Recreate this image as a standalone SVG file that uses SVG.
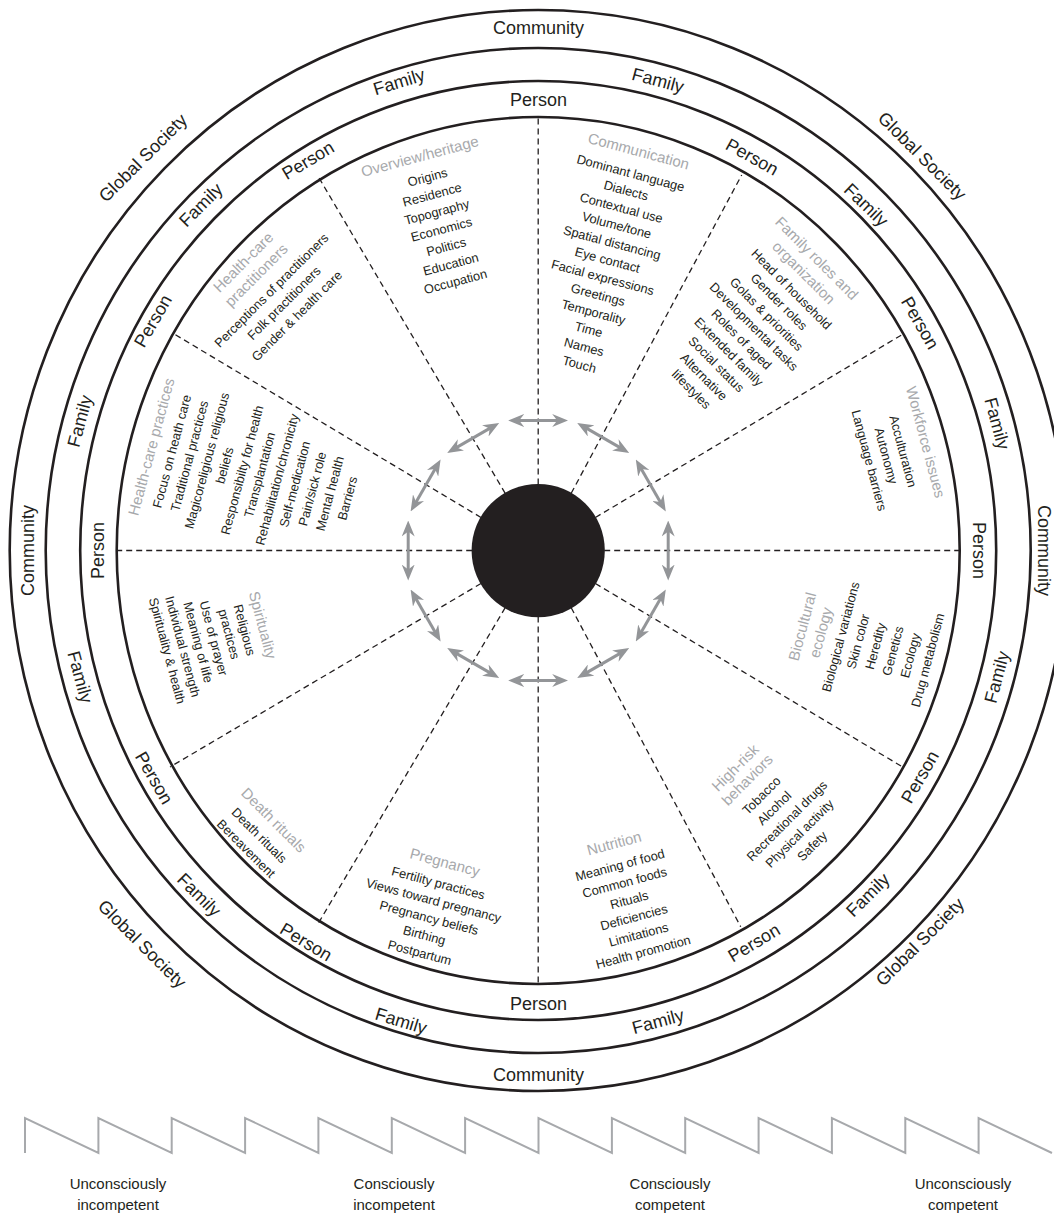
<svg xmlns="http://www.w3.org/2000/svg" width="1054" height="1217" viewBox="0 0 1054 1217">
<style>
text{font-family:"Liberation Sans",Arial,Helvetica,sans-serif;text-anchor:middle;dominant-baseline:central}
.ring{fill:none;stroke:#231f20;stroke-width:2.6}
.spoke{fill:none;stroke:#231f20;stroke-width:1.3;stroke-dasharray:6 4}
.arr{fill:none;stroke:#939598;stroke-width:3}
.lbl{font-size:18px;fill:#231f20}
.ttl{font-size:15px;fill:#a7a9ac}
.itm{font-size:12.8px;fill:#231f20}
.stage{font-size:15px;fill:#231f20}
.saw{fill:none;stroke:#a7a9ac;stroke-width:2}
</style>
<defs>
<marker id="ah" viewBox="0 0 16 13" refX="11" refY="6.5" markerWidth="16" markerHeight="13" markerUnits="userSpaceOnUse" orient="auto-start-reverse">
<path d="M0,0 L16,6.5 L0,13 L5,6.5 Z" fill="#939598"/>
</marker>
</defs>
<rect width="1054" height="1217" fill="#ffffff"/>

<g id="rings">
<ellipse class="ring" cx="538.2" cy="550.5" rx="528.5" ry="540.5"/>
<ellipse class="ring" cx="538.2" cy="550.5" rx="492.5" ry="502.5"/>
<ellipse class="ring" cx="538.2" cy="550.5" rx="458" ry="469.5"/>
<ellipse class="ring" cx="538.2" cy="550.5" rx="421.5" ry="433.5"/>
</g>

<g id="connectors">
<line class="spoke" x1="538.2" y1="484.5" x2="538.2" y2="117"/>
<line class="spoke" x1="571.2" y1="493.3" x2="741.7" y2="175"/>
<line class="spoke" x1="595.4" y1="517.5" x2="904" y2="333.5"/>
<line class="spoke" x1="604.2" y1="550.5" x2="959.7" y2="550.5"/>
<line class="spoke" x1="595.4" y1="583.5" x2="903.2" y2="767.3"/>
<line class="spoke" x1="571.2" y1="607.7" x2="740.7" y2="926.7"/>
<line class="spoke" x1="538.2" y1="616.5" x2="538.2" y2="984"/>
<line class="spoke" x1="505.2" y1="607.7" x2="318.3" y2="923.3"/>
<line class="spoke" x1="481" y1="583.5" x2="170" y2="767"/>
<line class="spoke" x1="472.2" y1="550.5" x2="116.7" y2="550.5"/>
<line class="spoke" x1="481" y1="517.5" x2="173.3" y2="333.5"/>
<line class="spoke" x1="505.2" y1="493.3" x2="318.3" y2="176.7"/>
<g id="arrows">
<line class="arr" marker-start="url(#ah)" marker-end="url(#ah)" x1="513.2" y1="420.5" x2="563.2" y2="420.5"/>
<line class="arr" marker-start="url(#ah)" marker-end="url(#ah)" x1="581.55" y1="425.4" x2="624.85" y2="450.4"/>
<line class="arr" marker-start="url(#ah)" marker-end="url(#ah)" x1="638.3" y1="463.85" x2="663.3" y2="507.15"/>
<line class="arr" marker-start="url(#ah)" marker-end="url(#ah)" x1="668.2" y1="525.5" x2="668.2" y2="575.5"/>
<line class="arr" marker-start="url(#ah)" marker-end="url(#ah)" x1="663.3" y1="593.85" x2="638.3" y2="637.15"/>
<line class="arr" marker-start="url(#ah)" marker-end="url(#ah)" x1="624.85" y1="650.6" x2="581.55" y2="675.6"/>
<line class="arr" marker-start="url(#ah)" marker-end="url(#ah)" x1="563.2" y1="680.5" x2="513.2" y2="680.5"/>
<line class="arr" marker-start="url(#ah)" marker-end="url(#ah)" x1="494.85" y1="675.6" x2="451.55" y2="650.6"/>
<line class="arr" marker-start="url(#ah)" marker-end="url(#ah)" x1="438.1" y1="637.15" x2="413.1" y2="593.85"/>
<line class="arr" marker-start="url(#ah)" marker-end="url(#ah)" x1="408.2" y1="575.5" x2="408.2" y2="525.5"/>
<line class="arr" marker-start="url(#ah)" marker-end="url(#ah)" x1="413.1" y1="507.15" x2="438.1" y2="463.85"/>
<line class="arr" marker-start="url(#ah)" marker-end="url(#ah)" x1="451.55" y1="450.4" x2="494.85" y2="425.4"/>
</g>
</g>

<g id="center">
<circle cx="538.2" cy="550.6" r="66.6" fill="#231f20"/>
</g>

<g id="ring-labels">
<text class="lbl" x="538.5" y="28">Community</text>
<text class="lbl" transform="translate(1043.5,550.5) rotate(90)">Community</text>
<text class="lbl" x="538.5" y="1074.5">Community</text>
<text class="lbl" transform="translate(28,550.5) rotate(-90)">Community</text>
<text class="lbl" transform="translate(922,156) rotate(45)">Global Society</text>
<text class="lbl" transform="translate(920,942) rotate(-45)">Global Society</text>
<text class="lbl" transform="translate(142,944) rotate(45)">Global Society</text>
<text class="lbl" transform="translate(143,158) rotate(-45)">Global Society</text>
<text class="lbl" transform="translate(658,80.5) rotate(15)">Family</text>
<text class="lbl" transform="translate(866,205) rotate(44)">Family</text>
<text class="lbl" transform="translate(997,423.5) rotate(75)">Family</text>
<text class="lbl" transform="translate(997,677) rotate(-75)">Family</text>
<text class="lbl" transform="translate(868,895) rotate(-45)">Family</text>
<text class="lbl" transform="translate(658,1021.5) rotate(-15)">Family</text>
<text class="lbl" transform="translate(401,1021) rotate(17)">Family</text>
<text class="lbl" transform="translate(199,895) rotate(45)">Family</text>
<text class="lbl" transform="translate(80,677) rotate(75)">Family</text>
<text class="lbl" transform="translate(80,421) rotate(-75)">Family</text>
<text class="lbl" transform="translate(201,205) rotate(-45)">Family</text>
<text class="lbl" transform="translate(399,82) rotate(-17)">Family</text>
<text class="lbl" x="538.5" y="100">Person</text>
<text class="lbl" transform="translate(752,157) rotate(29)">Person</text>
<text class="lbl" transform="translate(920,323) rotate(60)">Person</text>
<text class="lbl" transform="translate(979,550.5) rotate(90)">Person</text>
<text class="lbl" transform="translate(920,777) rotate(-60)">Person</text>
<text class="lbl" transform="translate(754,943) rotate(-31)">Person</text>
<text class="lbl" x="538.5" y="1004">Person</text>
<text class="lbl" transform="translate(306,942) rotate(31)">Person</text>
<text class="lbl" transform="translate(154,778) rotate(60)">Person</text>
<text class="lbl" transform="translate(98,550.5) rotate(-90)">Person</text>
<text class="lbl" transform="translate(153,321) rotate(-60)">Person</text>
<text class="lbl" transform="translate(308,160.5) rotate(-31)">Person</text>
</g>

<g id="overview-heritage" transform="translate(419.7,156) rotate(-15)">
<text class="ttl" x="0" y="0">Overview/heritage</text>
<text class="itm" x="2" y="22.5">Origins</text>
<text class="itm" x="2" y="40.5">Residence</text>
<text class="itm" x="2" y="58.5">Topography</text>
<text class="itm" x="2" y="76.5">Economics</text>
<text class="itm" x="2" y="94.5">Politics</text>
<text class="itm" x="2" y="112.5">Education</text>
<text class="itm" x="2" y="130.5">Occupation</text>
</g>

<g id="communication" transform="translate(638.7,150.8) rotate(15)">
<text class="ttl" x="0" y="0">Communication</text>
<text class="itm" x="-2" y="23.5">Dominant language</text>
<text class="itm" x="-2" y="41.5">Dialects</text>
<text class="itm" x="-2" y="59.5">Contextual use</text>
<text class="itm" x="-2" y="77.5">Volume/tone</text>
<text class="itm" x="-2" y="95.5">Spatial distancing</text>
<text class="itm" x="-2" y="113.5">Eye contact</text>
<text class="itm" x="-2" y="131.5">Facial expressions</text>
<text class="itm" x="-2" y="149.5">Greetings</text>
<text class="itm" x="-2" y="167.5">Temporality</text>
<text class="itm" x="-2" y="185.5">Time</text>
<text class="itm" x="-2" y="203.5">Names</text>
<text class="itm" x="-2" y="221.5">Touch</text>
</g>

<g id="family-roles" transform="translate(817,258) rotate(45)">
<text class="ttl" x="0" y="0">Family roles and</text>
<text class="ttl" x="1" y="19.4">organization</text>
<text class="itm" x="4" y="40">Head of household</text>
<text class="itm" x="4" y="57.7">Gender roles</text>
<text class="itm" x="4" y="75.4">Golas &amp; priorities</text>
<text class="itm" x="4" y="93.1">Developmental tasks</text>
<text class="itm" x="4" y="110.8">Roles of aged</text>
<text class="itm" x="4" y="128.5">Extended family</text>
<text class="itm" x="4" y="146.2">Social status</text>
<text class="itm" x="4" y="163.9">Alternative</text>
<text class="itm" x="4" y="181.6">lifestyles</text>
</g>

<g id="workforce-issues" transform="translate(926,442) rotate(75)">
<text class="ttl" x="0" y="0">Workforce issues</text>
<text class="itm" x="3" y="24.5">Acculturation</text>
<text class="itm" x="3" y="42">Autonomy</text>
<text class="itm" x="3" y="59.5">Language barriers</text>
</g>

<g id="biocultural-ecology" transform="translate(802,626.5) rotate(-75)">
<text class="ttl" x="0" y="0">Biocultural</text>
<text class="ttl" x="-1" y="19.4">ecology</text>
<text class="itm" x="0" y="40">Biological variations</text>
<text class="itm" x="0" y="58">Skin color</text>
<text class="itm" x="0" y="76">Heredity</text>
<text class="itm" x="0" y="94">Genetics</text>
<text class="itm" x="0" y="112">Ecology</text>
<text class="itm" x="0" y="130">Drug metabolism</text>
</g>

<g id="high-risk-behaviors" transform="translate(735,767.5) rotate(-45)">
<text class="ttl" x="0" y="0">High-risk</text>
<text class="ttl" x="0" y="17">behaviors</text>
<text class="itm" x="-1" y="38.5">Tobacco</text>
<text class="itm" x="-1" y="56.4">Alcohol</text>
<text class="itm" x="-1" y="74.3">Recreational drugs</text>
<text class="itm" x="-1" y="92.2">Physical activity</text>
<text class="itm" x="-1" y="110.1">Safety</text>
</g>

<g id="nutrition" transform="translate(614,843) rotate(-15)">
<text class="ttl" x="0" y="0">Nutrition</text>
<text class="itm" x="0" y="22.8">Meaning of food</text>
<text class="itm" x="0" y="40.8">Common foods</text>
<text class="itm" x="0" y="58.8">Rituals</text>
<text class="itm" x="0" y="76.8">Deficiencies</text>
<text class="itm" x="0" y="94.8">Limitations</text>
<text class="itm" x="0" y="112.8">Health promotion</text>
</g>

<g id="pregnancy" transform="translate(445,862) rotate(15)">
<text class="ttl" x="0" y="0">Pregnancy</text>
<text class="itm" x="-1" y="22">Fertility practices</text>
<text class="itm" x="-1" y="40">Views toward pregnancy</text>
<text class="itm" x="-1" y="58">Pregnancy beliefs</text>
<text class="itm" x="-1" y="76">Birthing</text>
<text class="itm" x="-1" y="94">Postpartum</text>
</g>

<g id="death-rituals" transform="translate(274,820) rotate(45)">
<text class="ttl" x="0" y="0">Death rituals</text>
<text class="itm" x="0.5" y="21.2">Death rituals</text>
<text class="itm" x="0.5" y="39.8">Bereavement</text>
</g>

<g id="spirituality" transform="translate(263,625) rotate(75)">
<text class="ttl" x="0" y="0">Spirituality</text>
<text class="itm" x="0" y="19">Religious</text>
<text class="itm" x="0" y="35">practices</text>
<text class="itm" x="0" y="51">Use of prayer</text>
<text class="itm" x="0" y="67">Meaning of life</text>
<text class="itm" x="0" y="83">Individual strength</text>
<text class="itm" x="0" y="99">Spirituality &amp; health</text>
</g>

<g id="health-care-practices" transform="translate(151,446.7) rotate(-75)">
<text class="ttl" x="0" y="0">Health-care practices</text>
<text class="itm" x="1" y="21.3">Focus on heath care</text>
<text class="itm" x="1" y="39.5">Traditional practices</text>
<text class="itm" x="1" y="57.6">Magicoreligious religious</text>
<text class="itm" x="1" y="75.8">beliefs</text>
<text class="itm" x="1" y="94">Responsibilty for health</text>
<text class="itm" x="1" y="112.2">Transplantation</text>
<text class="itm" x="1" y="130.3">Rehabilitation/chronicity</text>
<text class="itm" x="1" y="148.5">Self-medication</text>
<text class="itm" x="1" y="166.7">Pain/sick role</text>
<text class="itm" x="1" y="184.8">Mental health</text>
<text class="itm" x="1" y="203">Barriers</text>
</g>

<g id="health-care-practitioners" transform="translate(243,262) rotate(-45)">
<text class="ttl" x="0" y="0">Health-care</text>
<text class="ttl" x="0" y="18.4">practitioners</text>
<text class="itm" x="0" y="40">Perceptions of practitioners</text>
<text class="itm" x="0" y="58">Folk practitioners</text>
<text class="itm" x="0" y="76">Gender &amp; health care</text>
</g>

<g id="competence-scale">
<path class="saw" d="M25,1153 V1118 L98.4,1153 V1118 L171.7,1153 V1118 L245.1,1153 V1118 L318.4,1153 V1118 L391.8,1153 V1118 L465.1,1153 V1118 L538.5,1153 V1118 L611.9,1153 V1118 L685.2,1153 V1118 L758.6,1153 V1118 L831.9,1153 V1118 L905.3,1153 V1118 L978.6,1153 V1118 L1052,1153"/>
<text class="stage" x="118" y="1183">Unconsciously</text>
<text class="stage" x="118" y="1204">incompetent</text>
<text class="stage" x="394" y="1183">Consciously</text>
<text class="stage" x="394" y="1204">incompetent</text>
<text class="stage" x="670" y="1183">Consciously</text>
<text class="stage" x="670" y="1204">competent</text>
<text class="stage" x="963" y="1183">Unconsciously</text>
<text class="stage" x="963" y="1204">competent</text>
</g>
</svg>
